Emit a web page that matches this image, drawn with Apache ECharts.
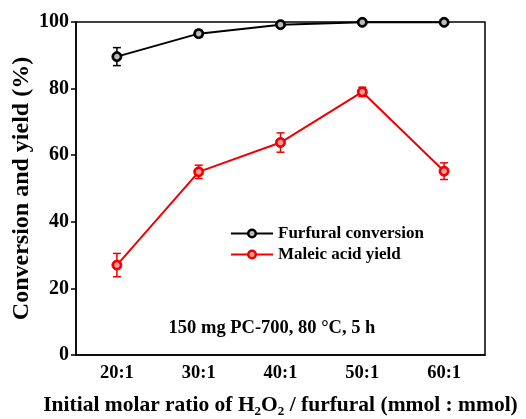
<!DOCTYPE html>
<html><head><meta charset="utf-8">
<script src="https://cdn.jsdelivr.net/npm/echarts@6/dist/echarts.min.js"></script>
<style>html,body{margin:0;padding:0;background:#fff}#c{width:526px;height:419px}</style>
</head><body><div id="c"></div>
<script>
const categories = ['20:1','30:1','40:1','50:1','60:1'];
const conversion = [89.6, 96.5, 99.2, 99.9, 99.9];
const conversionErr = [2.7, 1.0, 0.4, 0.3, 0.3];
const yieldVals = [27.0, 55.0, 63.8, 79.0, 55.2];
const yieldErr = [3.5, 2.0, 2.9, 1.4, 2.5];

const FONT = '"Liberation Serif","Times New Roman",serif';
const RED = '#f00000';
const chart = echarts.init(document.getElementById('c'));

function errSeries(vals, errs, color) {
  return {
    type: 'custom',
    z: 1,
    silent: true,
    data: vals.map((v, i) => [i, v - errs[i], v + errs[i]]),
    renderItem: function (params, api) {
      const lo = api.coord([api.value(0), api.value(1)]);
      const hi = api.coord([api.value(0), api.value(2)]);
      const w = 4;
      const st = { stroke: color, lineWidth: 1.5 };
      return { type: 'group', children: [
        { type: 'line', shape: { x1: lo[0], y1: lo[1], x2: hi[0], y2: hi[1] }, style: st },
        { type: 'line', shape: { x1: lo[0]-w, y1: lo[1], x2: lo[0]+w, y2: lo[1] }, style: st },
        { type: 'line', shape: { x1: hi[0]-w, y1: hi[1], x2: hi[0]+w, y2: hi[1] }, style: st }
      ]};
    }
  };
}
function ball(color, light) {
  return { type: 'radial', x: 0.5, y: 0.5, r: 0.5,
    colorStops: [{ offset: 0, color: light }, { offset: 0.4, color: light }, { offset: 0.6, color: color }, { offset: 1, color: color }] };
}

chart.setOption({
  animation: false,
  grid: { left: 76, right: 41, top: 22, bottom: 64, show: true, borderColor: '#000', borderWidth: 1.5,
    backgroundColor: 'transparent', containLabel: false, outerBoundsMode: 'none' },
  legend: {
    orient: 'vertical', left: 225, top: 220, itemGap: 4, itemWidth: 42, itemHeight: 10,
    textStyle: { fontFamily: FONT, fontWeight: 'bold', fontSize: 17, color: '#000' },
    data: ['Furfural conversion', 'Maleic acid yield']
  },
  xAxis: {
    type: 'category', data: categories, boundaryGap: true,
    axisLine: { lineStyle: { color: '#000', width: 1.5 } },
    axisTick: { inside: true, length: 6, alignWithLabel: true, lineStyle: { color: '#000', width: 1.5 } },
    axisLabel: { margin: 9, fontFamily: FONT, fontWeight: 'bold', fontSize: 18.5, color: '#000' },
    name: 'Initial molar ratio of H{s|2}O{s|2} / furfural (mmol : mmol)',
    nameLocation: 'middle', nameGap: 38, nameMoveOverlap: false,
    nameTextStyle: { fontFamily: FONT, fontWeight: 'bold', fontSize: 21.5, color: '#000',
      rich: { s: { fontFamily: FONT, fontWeight: 'bold', fontSize: 13, color: '#000', verticalAlign: 'bottom', padding: [12, 0, 0, 0] } } }
  },
  yAxis: {
    type: 'value', min: 0, max: 100, interval: 20,
    axisLine: { show: true, lineStyle: { color: '#000', width: 1.5 } },
    axisTick: { show: true, inside: false, length: 5, lineStyle: { color: '#000', width: 1.5 } },
    splitLine: { show: false },
    axisLabel: { margin: 7, fontFamily: FONT, fontWeight: 'bold', fontSize: 20, color: '#000' },
    name: 'Conversion and yield (%)', nameLocation: 'middle', nameGap: 42, nameMoveOverlap: false,
    nameTextStyle: { fontFamily: FONT, fontWeight: 'bold', fontSize: 24, color: '#000' }
  },
  graphic: [{
    type: 'text', x: 272, y: 328,
    style: { text: '150 mg PC-700, 80 °C, 5 h', font: 'bold 18.5px "Liberation Serif", serif', fill: '#000', align: 'center', verticalAlign: 'middle' }
  }],
  series: [
    errSeries(conversion, conversionErr, '#000'),
    errSeries(yieldVals, yieldErr, RED),
    { name: 'Furfural conversion', type: 'line', data: conversion, z: 3,
      symbol: 'circle', symbolSize: 10,
      lineStyle: { color: '#000', width: 2 },
      itemStyle: { color: ball('#000', '#bbb'), borderColor: '#000', borderWidth: 1 } },
    { name: 'Maleic acid yield', type: 'line', data: yieldVals, z: 3,
      symbol: 'circle', symbolSize: 10,
      lineStyle: { color: RED, width: 2 },
      itemStyle: { color: ball(RED, '#ff9a9a'), borderColor: RED, borderWidth: 1 } }
  ]
});
</script></body></html>
